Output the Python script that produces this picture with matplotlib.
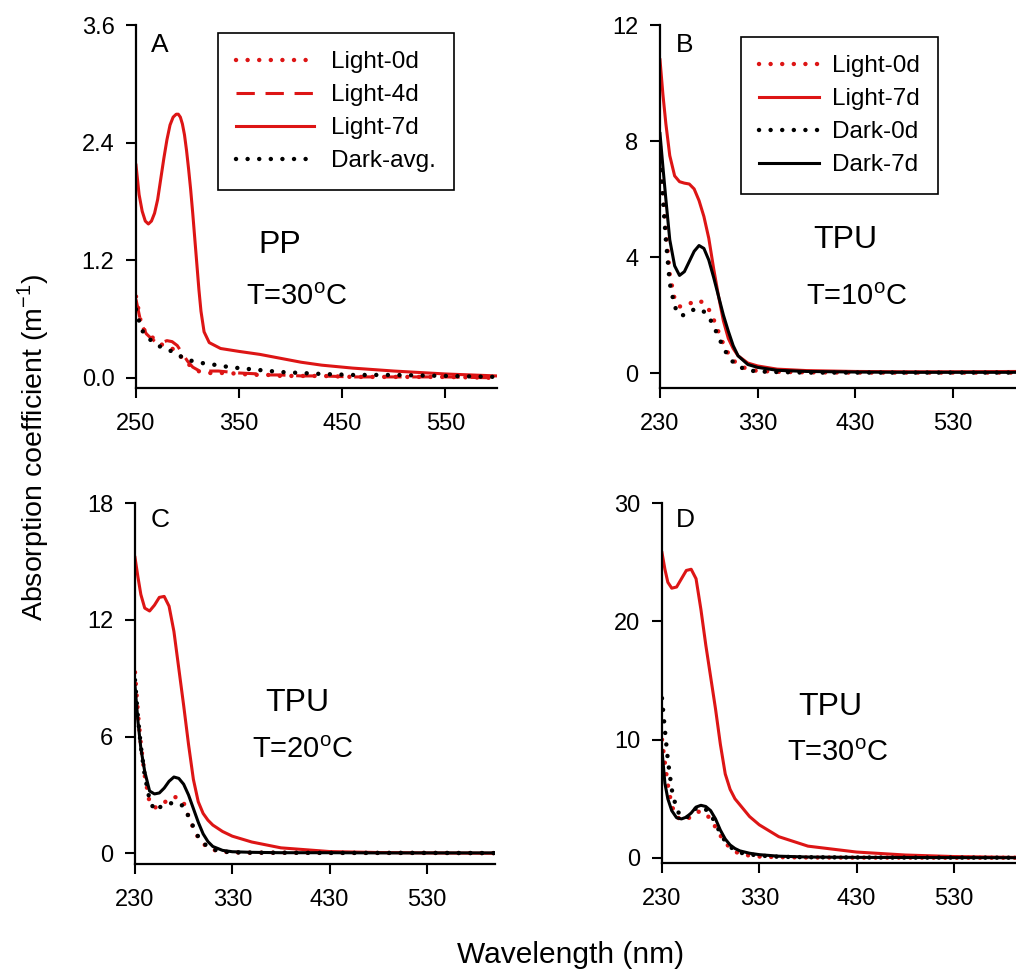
import matplotlib
matplotlib.use("Agg")
import matplotlib.pyplot as plt

plt.rcParams['font.family'] = ['Liberation Sans', 'DejaVu Sans']

RED = '#dd1515'
W, H = 1016, 977

# ---- panel A (PP, 30 C) ----
wlA = [250, 255, 260, 265, 270, 275, 280, 285, 290, 295, 300, 305, 310, 315,
       320, 330, 340, 350, 370, 380, 390, 410, 430, 460, 500, 550, 600]
A_light0 = [0.83, 0.55, 0.45, 0.42, 0.38, 0.34, 0.32, 0.30, 0.26, 0.20, 0.15, 0.10, 0.07, 0.06,
            0.05, 0.05, 0.05, 0.04, 0.03, 0.03, 0.02, 0.02, 0.02, 0.01, 0.01, 0.01, 0.0]
A_light4 = [0.80, 0.55, 0.45, 0.40, 0.36, 0.36, 0.38, 0.37, 0.33, 0.25, 0.17, 0.11, 0.08, 0.07,
            0.07, 0.07, 0.06, 0.05, 0.04, 0.03, 0.03, 0.02, 0.02, 0.01, 0.01, 0.01, 0.0]
A_dark = [0.70, 0.50, 0.42, 0.38, 0.34, 0.31, 0.29, 0.27, 0.24, 0.21, 0.19, 0.17, 0.16, 0.15,
          0.14, 0.13, 0.11, 0.10, 0.08, 0.07, 0.06, 0.05, 0.04, 0.03, 0.03, 0.02, 0.01]

# Light-7d is read more densely around the 290 nm peak
wlA7 = [250, 253, 256, 259, 262, 265, 268, 271, 274, 277, 280, 283, 286, 289, 291, 293,
        295, 297, 299, 301, 303, 305, 307, 309, 311, 313, 316, 321, 332, 350, 370, 380,
        390, 410, 430, 460, 500, 550, 600]
A_light7 = [2.17, 1.87, 1.70, 1.60, 1.57, 1.60, 1.68, 1.82, 2.03, 2.24, 2.43, 2.58, 2.66, 2.69, 2.69, 2.66,
            2.59, 2.48, 2.32, 2.13, 1.92, 1.68, 1.42, 1.16, 0.90, 0.68, 0.47, 0.36, 0.30, 0.27, 0.24, 0.22,
            0.20, 0.16, 0.13, 0.10, 0.07, 0.04, 0.02]

# ---- panels B-D (TPU) ----
wl = [230, 233, 236, 240, 245, 250, 255, 260, 265, 270, 275, 280, 285, 290, 295,
      300, 305, 310, 320, 330, 350, 380, 430, 480, 530, 600]

B_light0 = [7.8, 6.3, 4.9, 3.4, 2.55, 2.3, 2.3, 2.38, 2.5, 2.5, 2.42, 2.2, 1.85, 1.42, 1.0,
            0.68, 0.45, 0.3, 0.13, 0.08, 0.05, 0.03, 0.02, 0.02, 0.02, 0.02]
B_light7 = [10.8, 9.6, 8.6, 7.5, 6.8, 6.6, 6.55, 6.52, 6.35, 5.95, 5.4, 4.65, 3.6, 2.65, 1.8,
            1.2, 0.85, 0.6, 0.35, 0.25, 0.14, 0.09, 0.06, 0.05, 0.05, 0.06]
B_dark0 = [7.4, 6.0, 4.6, 3.1, 2.3, 2.0, 2.0, 2.1, 2.2, 2.22, 2.12, 1.95, 1.62, 1.25, 0.88,
           0.58, 0.38, 0.24, 0.1, 0.06, 0.04, 0.02, 0.02, 0.02, 0.02, 0.02]
B_dark7 = [8.26, 7.1, 6.0, 4.6, 3.7, 3.37, 3.5, 3.85, 4.2, 4.4, 4.3, 3.9, 3.3, 2.65, 2.0,
           1.45, 0.95, 0.6, 0.3, 0.2, 0.1, 0.06, 0.04, 0.03, 0.03, 0.03]

C_light0 = [9.3, 7.2, 5.6, 4.0, 2.6, 2.35, 2.4, 2.6, 2.8, 2.9, 2.85, 2.6, 1.9, 1.3, 0.8,
            0.5, 0.3, 0.18, 0.08, 0.05, 0.03, 0.03, 0.02, 0.02, 0.02, 0.01]
C_light7 = [15.2, 14.2, 13.3, 12.6, 12.45, 12.75, 13.15, 13.2, 12.7, 11.4, 9.5, 7.6, 5.6, 3.8, 2.65,
            2.05, 1.7, 1.45, 1.12, 0.88, 0.58, 0.28, 0.09, 0.04, 0.02, 0.0]
C_dark0 = [8.9, 7.0, 5.5, 4.0, 2.75, 2.2, 2.35, 2.5, 2.55, 2.6, 2.58, 2.4, 1.9, 1.35, 0.85,
           0.55, 0.32, 0.2, 0.09, 0.05, 0.03, 0.03, 0.02, 0.02, 0.02, 0.01]
C_dark7 = [8.6, 6.8, 5.4, 4.2, 3.2, 3.05, 3.1, 3.35, 3.7, 3.92, 3.85, 3.55, 3.0, 2.3, 1.6,
           1.0, 0.6, 0.35, 0.15, 0.08, 0.05, 0.03, 0.03, 0.02, 0.02, 0.02]

D_light0 = [10.0, 8.0, 6.2, 4.4, 3.5, 3.2, 3.25, 3.5, 3.85, 3.95, 3.7, 3.3, 2.6, 1.9, 1.3,
            0.85, 0.55, 0.35, 0.2, 0.12, 0.07, 0.04, 0.03, 0.03, 0.02, 0.02]
D_light7 = [25.8, 24.4, 23.3, 22.8, 22.9, 23.6, 24.3, 24.4, 23.6, 21.0, 18.0, 15.3, 12.6, 9.6, 7.1,
            5.8, 5.0, 4.5, 3.5, 2.8, 1.8, 1.0, 0.5, 0.25, 0.12, 0.04]
D_dark0 = [13.5, 10.8, 8.3, 5.8, 4.1, 3.45, 3.4, 3.75, 4.2, 4.3, 4.1, 3.7, 2.9, 2.1, 1.4,
           0.95, 0.65, 0.45, 0.3, 0.2, 0.1, 0.06, 0.04, 0.03, 0.03, 0.02]
D_dark7 = [9.1, 6.3, 5.0, 4.0, 3.4, 3.3, 3.45, 3.8, 4.3, 4.45, 4.35, 4.0, 3.3, 2.35, 1.6,
           1.1, 0.8, 0.6, 0.4, 0.28, 0.15, 0.08, 0.05, 0.04, 0.03, 0.02]

DOT = (0, (0.01, 2.6))
DASH = (0, (6.0, 3.5))
TICK_FS = 17
LEG_FS = 17.5


def makeAxes(fig, left, right, top, bottom):
    ax = fig.add_axes([left / W, 1 - bottom / H, (right - left) / W, (bottom - top) / H])
    for side in ['top', 'right']:
        ax.spines[side].set_visible(False)
    for side in ['left', 'bottom']:
        ax.spines[side].set_linewidth(1.6)
    ax.tick_params(direction='out', length=7.5, width=1.5, labelsize=TICK_FS)
    ax.tick_params(axis='x', pad=10.5)
    ax.tick_params(axis='y', pad=8)
    return ax


def dotted(ax, x, y, color, label):
    ax.plot(x, y, color=color, lw=3.2, linestyle=DOT, dash_capstyle='round', label=label)


def addLegend(ax, x, y, handlelength, textpad):
    leg = ax.legend(loc='upper left', bbox_to_anchor=(x / W, 1 - y / H), bbox_transform=fig.transFigure,
                    fontsize=LEG_FS, handlelength=handlelength, handletextpad=textpad, labelspacing=0.45,
                    borderpad=0.75, borderaxespad=0, fancybox=False, edgecolor='black', framealpha=1)
    leg.get_frame().set_linewidth(1.2)


fig = plt.figure(figsize=(W / 100, H / 100), dpi=100)

# A
ax = makeAxes(fig, 136, 497, 25, 387.7)
dotted(ax, wlA, A_light0, RED, 'Light-0d')
ax.plot(wlA, A_light4, color=RED, lw=2.2, linestyle=DASH, label='Light-4d')
ax.plot(wlA7, A_light7, color=RED, lw=2.2, label='Light-7d')
dotted(ax, wlA, A_dark, 'black', 'Dark-avg.')
ax.set_xlim(250, 600)
ax.set_ylim(-0.1, 3.6)
ax.set_xticks([250, 350, 450, 550])
ax.set_yticks([0, 1.2, 2.4, 3.6])
ax.set_yticklabels(['0.0', '1.2', '2.4', '3.6'])
addLegend(ax, 218, 33, 3.2, 0.7)

# B
ax = makeAxes(fig, 660, 1021, 25, 387.7)
dotted(ax, wl, B_light0, RED, 'Light-0d')
ax.plot(wl, B_light7, color=RED, lw=2.2, label='Light-7d')
dotted(ax, wl, B_dark0, 'black', 'Dark-0d')
ax.plot(wl, B_dark7, color='black', lw=2.2, label='Dark-7d')
ax.set_xlim(230, 600)
ax.set_ylim(-0.5, 12)
ax.set_xticks([230, 330, 430, 530])
ax.set_yticks([0, 4, 8, 12])
addLegend(ax, 741, 37, 2.45, 0.55)

# C
ax = makeAxes(fig, 135, 495, 503, 864)
dotted(ax, wl, C_light0, RED, 'Light-0d')
ax.plot(wl, C_light7, color=RED, lw=2.2, label='Light-7d')
dotted(ax, wl, C_dark0, 'black', 'Dark-0d')
ax.plot(wl, C_dark7, color='black', lw=2.2, label='Dark-7d')
ax.set_xlim(230, 600)
ax.set_ylim(-0.55, 18)
ax.set_xticks([230, 330, 430, 530])
ax.set_yticks([0, 6, 12, 18])

# D
ax = makeAxes(fig, 662, 1022, 503, 862.7)
dotted(ax, wl, D_light0, RED, 'Light-0d')
ax.plot(wl, D_light7, color=RED, lw=2.2, label='Light-7d')
dotted(ax, wl, D_dark0, 'black', 'Dark-0d')
ax.plot(wl, D_dark7, color='black', lw=2.2, label='Dark-7d')
ax.set_xlim(230, 600)
ax.set_ylim(-0.4, 30)
ax.set_xticks([230, 330, 430, 530])
ax.set_yticks([0, 10, 20, 30])


# panel letters and annotations
def ftext(x, y, s, size):
    fig.text(x / W, 1 - y / H, s, fontsize=size, ha='center', va='center')


ftext(160, 45, 'A', 19)
ftext(685, 45, 'B', 19)
ftext(160, 520, 'C', 19)
ftext(685, 520, 'D', 19)

ftext(280, 245, 'PP', 23)
ftext(297, 297, 'T=30$^\\mathregular{o}$C', 21)
ftext(845, 240, 'TPU', 23)
ftext(857, 297, 'T=10$^\\mathregular{o}$C', 21)
ftext(297, 703, 'TPU', 23)
ftext(303, 750, 'T=20$^\\mathregular{o}$C', 21)
ftext(830, 707, 'TPU', 23)
ftext(838, 753, 'T=30$^\\mathregular{o}$C', 21)

fig.text(33 / W, 1 - 447 / H, 'Absorption coefficient (m$^\\mathregular{-1}$)', fontsize=20.5,
         rotation=90, ha='center', va='center')
fig.text(571 / W, 1 - 955 / H, 'Wavelength (nm)', fontsize=21.5, ha='center', va='center')

fig.savefig('out.png', dpi=100)
